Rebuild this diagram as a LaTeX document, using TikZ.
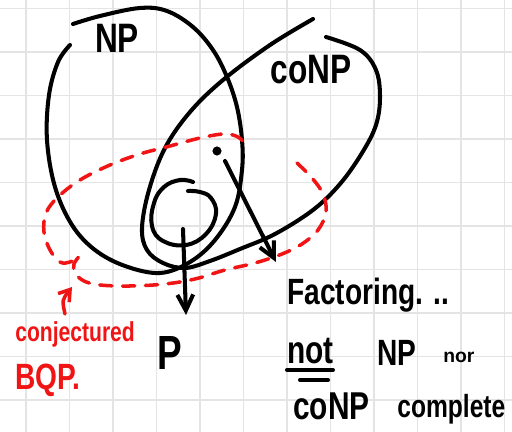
\documentclass[tikz,border=0pt]{standalone}
\usepackage{fontspec}
\setmainfont{Liberation Sans}
\usepackage{xcolor}
\usetikzlibrary{arrows.meta}

\definecolor{penred}{RGB}{240,20,20}
\definecolor{gridgray}{RGB}{228,228,228}

\newcommand{\tallhand}[1]{\scalebox{1}[1.3]{#1}}

\tikzset{
  pen/.style={line width=2.3pt,line cap=round,line join=round,black},
  redpen/.style={line width=2pt,line cap=round,line join=round,penred},
  bqpdash/.style={redpen,dash pattern=on 7pt off 6pt},
  gridline/.style={gridgray,line width=0.9pt},
  hand/.style={inner sep=0pt,font=\bfseries},
  penarrow/.style={pen,-{Straight Barb[length=9pt,width=9pt,line width=2.3pt]}},
}

\begin{document}
\begin{tikzpicture}[x=0.02cm,y=-0.02cm]
  % 1 unit = 1 px of the sketch, y runs downwards
  \useasboundingbox (0,0) rectangle (512,432);
  \fill[white] (0,0) rectangle (512,432);
  \foreach \gx in {0,...,11} { \draw[gridline] ({26+43.5*\gx},0) -- ({26+43.5*\gx},432); }
  \foreach \gy in {0,...,9} { \draw[gridline] (0,{8.3+43.5*\gy}) -- (512,{8.3+43.5*\gy}); }

  % NP loop
  \draw[pen] plot[smooth,tension=0.6] coordinates {(73,24) (100,16) (140,8) (167,11) (193,27) (213,50) (227,77) (237,107) (242,140) (242,170) (235,207) (215,240) (190,262) (160,273) (125,266) (95,250) (72,225) (55,187) (47,140) (49,95) (58,62) (70,45)};
  % coNP loop
  \draw[pen] plot[smooth,tension=0.6] coordinates {(313,19) (270,45) (223,80) (190,112) (165,148) (149,190) (142,228) (147,250) (163,263) (185,268) (210,261) (240,249) (275,234) (313,210) (340,184) (362,153) (376,125) (380,97) (376,70) (360,50) (326,37)};
  % P spiral
  \draw[pen] plot[smooth,tension=0.7] coordinates {(193,182) (180,180) (164,187) (154,203) (152,226) (163,241) (186,245) (206,234) (216,214) (211,198) (200,192) (188,191)};
  % BQP (dashed)
  \draw[bqpdash] plot[smooth,tension=0.6] coordinates {(297,163) (312,178) (323,194) (326,212) (318,230) (302,244) (282,254) (255,263) (225,270) (195,279) (165,284) (130,286) (100,285) (84,281) (75,273) (74,264) (79,256) (70,262) (60,262) (50,250) (44,232) (46,213) (58,197) (80,180) (110,165) (140,154) (170,146) (200,138) (224,134) (238,137) (246,145)};

  \node[hand,font=\bfseries\fontsize{18}{18}\selectfont] (np) at (117,38) {\tallhand{NP}};
  \node[hand,font=\bfseries\fontsize{18}{18}\selectfont] (conp) at (311,70) {\tallhand{coNP}};

  \coordinate (pstart) at (183,229);
  \coordinate (pend) at (186,315);
  \draw[penarrow] (pstart) -- (pend);
  \node[hand,font=\bfseries\fontsize{21}{21}\selectfont,anchor=base west] (plabel) at (157,370) {\tallhand{P}};

  \fill (217,151) circle (2.6pt) coordinate (fdot);
  \coordinate (fstart) at (225,161);
  \coordinate (fend) at (276,262);
  \draw[penarrow] (fstart) -- (fend);

  \node[hand,font=\bfseries\fontsize{16}{16}\selectfont,anchor=base west] (factoring) at (287,305) {\tallhand{Factoring. ..}};
  \node[hand,font=\bfseries\fontsize{17}{17}\selectfont,anchor=base west] (nottxt) at (287,364) {\tallhand{not}};
  \draw[pen] (287,370) -- (333,370);
  \draw[pen] (300,380) -- (328,380);
  \node[hand,font=\bfseries\fontsize{16}{16}\selectfont,anchor=base west] (np2) at (377,366) {\tallhand{NP}};
  \node[hand,font=\bfseries\fontsize{11}{11}\selectfont,anchor=base west] (nor) at (443,363) {nor};
  \node[hand,font=\bfseries\fontsize{17}{17}\selectfont,anchor=base west] (conp2) at (293,420) {\tallhand{coNP}};
  \node[hand,font=\bfseries\fontsize{14}{14}\selectfont,anchor=base west] (complete) at (397,418) {\tallhand{complete}};

  \node[hand,penred,font=\bfseries\fontsize{12}{12}\selectfont,anchor=base west] (conj) at (15,342) {\tallhand{conjectured}};
  \node[hand,penred,font=\bfseries\fontsize{16}{16}\selectfont,anchor=base west] (bqp) at (15,390) {\tallhand{BQP.}};
  \coordinate (bstart) at (65,314);
  \coordinate (bend) at (72,287);
  \draw[redpen,-{Straight Barb[length=6pt,width=8pt,line width=2pt]}] (bstart) .. controls (62,300) .. (bend);
\end{tikzpicture}
\end{document}
